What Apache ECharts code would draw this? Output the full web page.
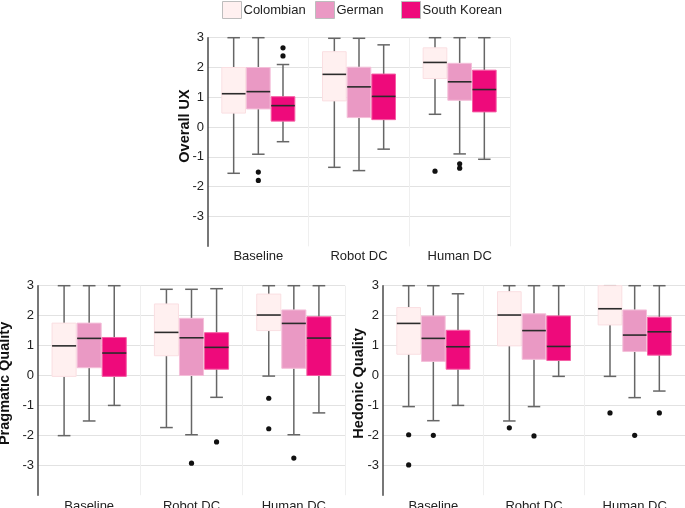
<!DOCTYPE html>
<html>
<head>
<meta charset="utf-8">
<script src="https://cdn.jsdelivr.net/npm/echarts@6/dist/echarts.min.js"></script>
<style>
  html, body { margin: 0; padding: 0; background: #fff; }
  #chart { width: 685px; height: 508px; }
</style>
</head>
<body>
<div id="chart"></div>
<script>
const categories = ['Baseline', 'Robot DC', 'Human DC'];
const groups = ['Colombian', 'German', 'South Korean'];

// box stats per condition: [min, Q1, median, Q3, max]
const uxColombian = [[-1.55, 0.47, 1.12, 2.0, 3.0], [-1.35, 0.88, 1.77, 2.53, 2.98], [0.43, 1.63, 2.17, 2.66, 3.0]];
const uxGerman = [[-0.91, 0.61, 1.19, 2.0, 3.0], [-1.46, 0.32, 1.35, 2.01, 2.98], [-0.9, 0.9, 1.52, 2.14, 3.0]];
const uxKorean = [[-0.49, 0.2, 0.72, 1.02, 2.1], [-0.74, 0.25, 1.03, 1.78, 2.76], [-1.08, 0.51, 1.26, 1.91, 3.0]];

const pqColombian = [[-2.01, -0.03, 0.99, 1.75, 3.0], [-1.74, 0.66, 1.44, 2.39, 2.88], [-0.02, 1.5, 2.02, 2.72, 3.0]];
const pqGerman = [[-1.52, 0.26, 1.24, 1.75, 3.0], [-1.98, 0.0, 1.26, 1.91, 2.88], [-1.98, 0.24, 1.74, 2.19, 3.0]];
const pqKorean = [[-1.0, -0.03, 0.75, 1.27, 3.0], [-0.73, 0.21, 0.94, 1.43, 2.9], [-1.25, 0.0, 1.25, 1.96, 3.0]];

const hqColombian = [[-1.04, 0.71, 1.74, 2.27, 3.0], [-1.52, 0.99, 2.02, 2.8, 3.0], [-0.03, 1.69, 2.23, 3.0, 3.0]];
const hqGerman = [[-1.51, 0.47, 1.24, 1.99, 3.0], [-1.04, 0.54, 1.5, 2.06, 3.0], [-0.74, 0.8, 1.35, 2.19, 3.0]];
const hqKorean = [[-1.0, 0.21, 0.96, 1.51, 2.73], [-0.03, 0.5, 0.97, 1.99, 3.0], [-0.52, 0.68, 1.46, 1.95, 3.0]];

// outliers: [condition index, group index, value]
const uxOutliers = [[0, 1, -1.51], [0, 1, -1.79], [0, 2, 2.66], [0, 2, 2.39], [2, 0, -1.48], [2, 1, -1.23], [2, 1, -1.38]];
const pqOutliers = [[1, 1, -2.93], [1, 2, -2.22], [2, 0, -0.76], [2, 0, -1.78], [2, 1, -2.76]];
const hqOutliers = [[0, 0, -1.98], [0, 0, -2.99], [0, 1, -2.0], [1, 0, -1.75], [1, 1, -2.02], [2, 0, -1.25], [2, 1, -2.0], [2, 2, -1.25]];

const panelNames = ['Overall UX', 'Pragmatic Quality', 'Hedonic Quality'];
const panelBoxes = [
  [uxColombian, uxGerman, uxKorean],
  [pqColombian, pqGerman, pqKorean],
  [hqColombian, hqGerman, hqKorean]
];
const panelOutliers = [uxOutliers, pqOutliers, hqOutliers];

const fills = ['#fff0f0', '#ea99c4', '#ee0a7b'];
const borders = ['#fadfe2', '#f4bfd9', '#f55ea4'];
const font = '"Liberation Sans", Arial, sans-serif';
const SLOT = 0.245; // share of the band per box

function boxItem(g) {
  return function (params, api) {
    const cat = api.value(0);
    const band = api.size([1, 0])[0];
    const slot = band * SLOT;
    const cx = api.coord([cat, 0])[0] + (g - 1) * slot;
    const half = (slot - 1) / 2;
    const cap = band * 0.062;
    const y = (i) => api.coord([cat, api.value(i)])[1];
    const yMin = y(1), yQ1 = y(2), yMed = y(3), yQ3 = y(4), yMax = y(5);
    const wStyle = { stroke: '#666', lineWidth: 1.5 };
    return {
      type: 'group',
      children: [
        { type: 'line', shape: { x1: cx, y1: yMin, x2: cx, y2: yQ1 }, style: wStyle },
        { type: 'line', shape: { x1: cx, y1: yQ3, x2: cx, y2: yMax }, style: wStyle },
        { type: 'line', shape: { x1: cx - cap, y1: yMin, x2: cx + cap, y2: yMin }, style: wStyle },
        { type: 'line', shape: { x1: cx - cap, y1: yMax, x2: cx + cap, y2: yMax }, style: wStyle },
        { type: 'rect', shape: { x: cx - half, y: yQ3, width: half * 2, height: yQ1 - yQ3 },
          style: { fill: fills[g], stroke: borders[g], lineWidth: 1 } },
        { type: 'line', shape: { x1: cx - half, y1: yMed, x2: cx + half, y2: yMed },
          style: { stroke: '#2b2b2b', lineWidth: 1.6 } }
      ]
    };
  };
}

function outlierItem(params, api) {
  const cat = api.value(0);
  const band = api.size([1, 0])[0];
  const p = api.coord([cat, api.value(2)]);
  return {
    type: 'circle',
    shape: { cx: p[0] + (api.value(1) - 1) * band * SLOT, cy: p[1], r: 2.6 },
    style: { fill: '#111' }
  };
}

const grids = [
  { left: 208, top: 37.7, width: 302, height: 208.6, outerBoundsMode: 'none', containLabel: false },
  { left: 38, top: 285.7, width: 307, height: 209.5, outerBoundsMode: 'none', containLabel: false },
  { left: 383, top: 285.7, width: 302, height: 209.5, outerBoundsMode: 'none', containLabel: false }
];
const nameGaps = [16, 26, 17];
const labelMargins = [4, 5, 5];

const xAxes = grids.map((g, i) => ({
  type: 'category',
  gridIndex: i,
  data: categories,
  axisLine: { show: false },
  axisTick: { show: false },
  axisLabel: { color: '#222', fontSize: 13, fontFamily: font, margin: labelMargins[i] },
  splitLine: {
    show: true,
    interval: (idx) => idx === 1 || idx === 2,
    lineStyle: { color: '#efefef', width: 1 }
  }
}));

const yAxes = grids.map((g, i) => ({
  type: 'value',
  gridIndex: i,
  min: -4,
  max: 3,
  interval: 1,
  name: panelNames[i],
  nameLocation: 'middle',
  nameGap: nameGaps[i],
  nameMoveOverlap: false,
  nameTextStyle: {
    color: '#111', fontSize: 14.5, fontWeight: 'bold', fontFamily: font,
    padding: i === 0 ? [0, 0, 0, 32] : [0, 0, 0, 14]
  },
  axisLine: { show: true, lineStyle: { color: '#4a4a4a', width: 1.5 } },
  axisTick: { show: false },
  axisLabel: {
    color: '#222', fontSize: 13, fontFamily: font, margin: 4,
    formatter: (v) => (v === -4 ? '' : String(v))
  },
  splitLine: {
    show: true,
    lineStyle: { color: ['transparent', '#e2e2e2', '#e2e2e2', '#e2e2e2', '#e2e2e2', '#e2e2e2', '#e2e2e2', '#e2e2e2'], width: 1.2 }
  }
}));

const series = [];
panelBoxes.forEach((boxes, p) => {
  boxes.forEach((stats, g) => {
    series.push({
      type: 'custom',
      name: groups[g],
      xAxisIndex: p,
      yAxisIndex: p,
      itemStyle: { color: fills[g] },
      renderItem: boxItem(g),
      encode: { x: 0, y: [1, 2, 3, 4, 5] },
      data: stats.map((s, i) => [i].concat(s)),
      silent: true
    });
  });
  series.push({
    type: 'custom',
    name: 'outliers-' + p,
    xAxisIndex: p,
    yAxisIndex: p,
    renderItem: outlierItem,
    encode: { x: 0, y: 2 },
    data: panelOutliers[p],
    z: 3,
    silent: true
  });
});

const legendLefts = [217, 310, 396];
const legends = groups.map((name, g) => ({
  left: legendLefts[g],
  top: -4,
  itemWidth: 19,
  itemHeight: 17,
  itemGap: 0,
  selectedMode: false,
  textStyle: { color: '#222', fontSize: 13, fontFamily: font, padding: [0, 0, 0, -3] },
  data: [{ name: name, icon: 'rect', itemStyle: { color: fills[g], borderColor: '#bdbdbd', borderWidth: 1 } }]
}));

const chart = echarts.init(document.getElementById('chart'));
chart.setOption({
  animation: false,
  backgroundColor: '#fff',
  legend: legends,
  grid: grids,
  xAxis: xAxes,
  yAxis: yAxes,
  series: series
});
</script>
</body>
</html>
